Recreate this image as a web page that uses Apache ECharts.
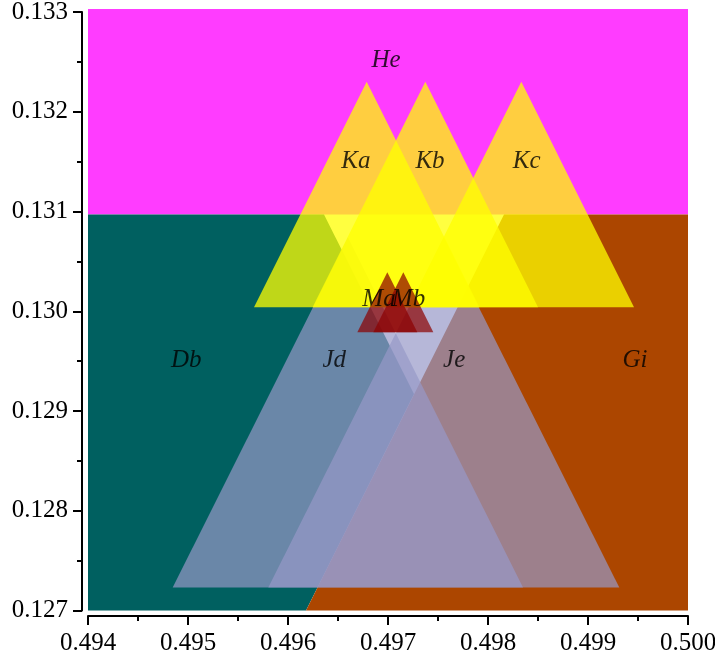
<!DOCTYPE html>
<html>
<head>
<meta charset="utf-8">
<script src="https://cdn.jsdelivr.net/npm/echarts@6/dist/echarts.min.js"></script>
<style>html,body{margin:0;padding:0;background:#fff;overflow:hidden;}#c{width:715px;height:658px;}</style>
</head>
<body>
<div id="c"></div>
<script>
// Axis tick labels
const xTicks = ['0.494','0.495','0.496','0.497','0.498','0.499','0.500'];
const yTicks = ['0.127','0.128','0.129','0.130','0.131','0.132','0.133'];

// Background regions (polygon vertices, data coordinates)
const regionNames = ['He', 'Db', 'Gi'];
const regionPolys = [
  [[0.494,0.13097],[0.500,0.13097],[0.500,0.13303],[0.494,0.13303]],
  [[0.494,0.127],[0.49618,0.127],[0.49726,0.12917],[0.49636,0.13097],[0.494,0.13097]],
  [[0.49618,0.127],[0.500,0.127],[0.500,0.13097],[0.49816,0.13097]]
];
const regionColors = ['#FF3CFF', '#006060', '#AC4600'];

// Triangles (left base, apex, right base)
const jNames = ['Jd', 'Je'];
const jPolys = [
  [[0.494847,0.12723],[0.496599,0.13074],[0.49835,0.12723]],
  [[0.495803,0.12723],[0.497558,0.13074],[0.499313,0.12723]]
];
const kNames = ['Ka', 'Kb', 'Kc'];
const kPolys = [
  [[0.49566,0.13004],[0.496787,0.13230],[0.497914,0.13004]],
  [[0.496246,0.13004],[0.497373,0.13230],[0.4985,0.13004]],
  [[0.497206,0.13004],[0.498333,0.13230],[0.49946,0.13004]]
];
const mNames = ['Ma', 'Mb'];
const mPolys = [
  [[0.496693,0.12979],[0.496993,0.13039],[0.497293,0.12979]],
  [[0.496853,0.12979],[0.497153,0.13039],[0.497453,0.12979]]
];

// Label positions
const labelNames = ['He','Ka','Kb','Kc','Db','Jd','Je','Gi','Ma','Mb'];
const labelX = [0.49698, 0.496678, 0.49742, 0.498387, 0.494982, 0.496462, 0.497662, 0.49947, 0.49691, 0.497205];
const labelY = [0.132519, 0.131506, 0.131506, 0.131506, 0.129511, 0.129511, 0.129511, 0.129511, 0.130123, 0.130123];

function polySeries(polys, colorFn, z) {
  return {
    type: 'custom',
    coordinateSystem: 'cartesian2d',
    z: z,
    silent: true,
    data: polys.map((p, i) => [p[0][0], p[0][1], i]),
    encode: { x: 0, y: 1 },
    renderItem: function (params, api) {
      const poly = polys[params.dataIndex];
      return {
        type: 'polygon',
        shape: { points: poly.map(pt => api.coord(pt)) },
        style: { fill: colorFn(params.dataIndex), stroke: null }
      };
    }
  };
}

const font = 'Liberation Serif';
const chart = echarts.init(document.getElementById('c'), null, { renderer: 'canvas', width: 715, height: 658 });
const axisCommon = {
  type: 'value',
  interval: 0.001,
  splitLine: { show: false },
  axisLine: { show: true, onZero: false, lineStyle: { color: '#000', width: 2 } },
  axisTick: { show: true, inside: false, length: 9, lineStyle: { color: '#000', width: 2 } },
  minorTick: { show: true, splitNumber: 2, length: 5, lineStyle: { color: '#000', width: 2 } },
  minorSplitLine: { show: false }
};
chart.setOption({
  animation: false,
  backgroundColor: '#ffffff',
  grid: { left: 88, right: 27, top: 12, bottom: 47.5, containLabel: false, outerBoundsMode: 'none' },
  xAxis: Object.assign({}, axisCommon, {
    min: 0.494, max: 0.500, offset: 5.5,
    axisLabel: { margin: 15, color: '#000', fontFamily: font, fontSize: 25,
      formatter: v => xTicks[Math.round((v - 0.494) / 0.001)] }
  }),
  yAxis: Object.assign({}, axisCommon, {
    min: 0.127, max: 0.133, offset: 6,
    axisLabel: { margin: 14, color: '#000', fontFamily: font, fontSize: 25,
      formatter: v => yTicks[Math.round((v - 0.127) / 0.001)] }
  }),
  series: [
    polySeries(regionPolys, i => regionColors[i], 1),
    polySeries(jPolys, i => 'rgba(151,153,199,0.7)', 2),
    polySeries(kPolys, i => 'rgba(255,255,0,0.75)', 3),
    polySeries(mPolys, i => 'rgba(139,0,0,0.7)', 4),
    {
      type: 'scatter',
      z: 5,
      silent: true,
      symbolSize: 0,
      data: labelNames.map((n, i) => ({ name: n, value: [labelX[i], labelY[i]] })),
      label: {
        show: true, position: 'inside', formatter: p => p.name,
        color: '#000', fontFamily: font, fontStyle: 'italic', fontSize: 25
      }
    }
  ]
});
</script>
</body>
</html>
